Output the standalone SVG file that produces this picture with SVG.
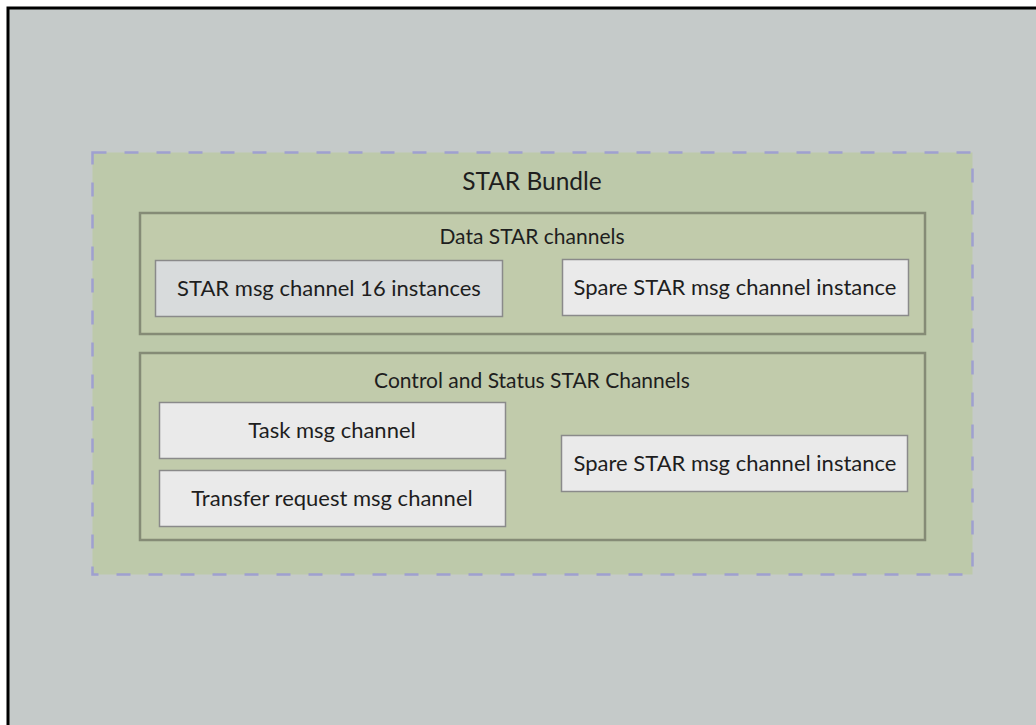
<svg xmlns="http://www.w3.org/2000/svg" width="1036" height="725" viewBox="0 0 1036 725">
<style>
text{font-family:"Lato","Noto Sans","Liberation Sans",sans-serif;fill:#1e1e1e;text-anchor:middle}
.panel{fill:#c1cbab;stroke:#858b76;stroke-width:2.5}
.box{fill:#eaeaea;stroke:#8a8a8a;stroke-width:1.5}
.lbl{font-size:22px}
.ptitle{font-size:21px}
</style>
<rect x="0" y="0" width="1036" height="725" fill="#ffffff"/>
<rect x="8" y="8" width="1028" height="717" fill="#c5cac9"/>
<path d="M8 725 V8 H1036" fill="none" stroke="#000" stroke-width="3"/>
<g id="bundle">
<rect x="92.5" y="152.5" width="880" height="422" fill="#bdc9aa" stroke="#9fa0d0" stroke-width="2.5" stroke-dasharray="14 18"/>
<text x="532" y="190" font-size="24.5">STAR Bundle</text>
</g>
<g id="data-panel">
<rect class="panel" x="140" y="213" width="785" height="121"/>
<text class="ptitle" x="532" y="244">Data STAR channels</text>
</g>
<g id="star16">
<rect class="box" x="155.5" y="260.5" width="347" height="56" style="fill:#d8dbdc"/>
<text class="lbl" x="329" y="296">STAR msg channel 16 instances</text>
</g>
<g id="spare1">
<rect class="box" x="562.5" y="259.5" width="346" height="56"/>
<text class="lbl" x="735" y="295">Spare STAR msg channel instance</text>
</g>
<g id="ctrl-panel">
<rect class="panel" x="140" y="353" width="785" height="187"/>
<text class="ptitle" x="532" y="388">Control and Status STAR Channels</text>
</g>
<g id="task">
<rect class="box" x="159.5" y="402.5" width="346" height="56"/>
<text class="lbl" x="332" y="438">Task msg channel</text>
</g>
<g id="transfer">
<rect class="box" x="159.5" y="470.5" width="346" height="56"/>
<text class="lbl" x="332" y="506">Transfer request msg channel</text>
</g>
<g id="spare2">
<rect class="box" x="561.5" y="435.5" width="346" height="56"/>
<text class="lbl" x="735" y="471">Spare STAR msg channel instance</text>
</g>
<g id="connectors"></g>
</svg>
